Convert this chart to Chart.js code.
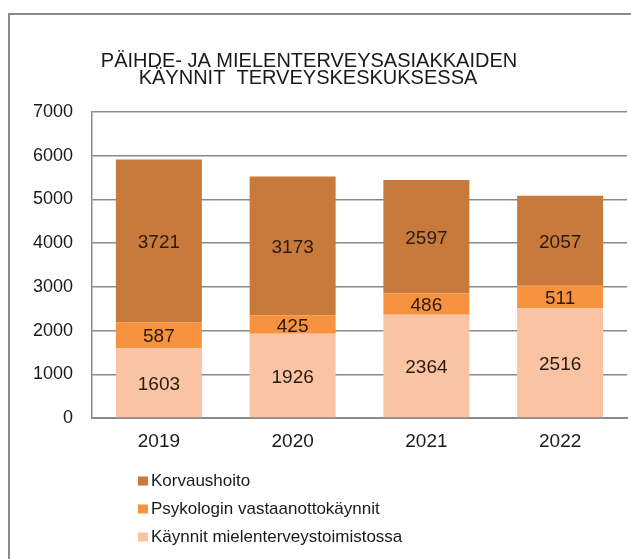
<!DOCTYPE html>
<html>
<head>
<meta charset="utf-8">
<script src="https://cdn.jsdelivr.net/npm/chart.js@4"></script>
<style>
html,body{margin:0;padding:0;background:#fff;}
#wrap{position:relative;width:631px;height:559px;}
</style>
</head>
<body>
<div id="wrap"><canvas id="c" width="631" height="559"></canvas></div>
<script>
const categories = ['2019', '2020', '2021', '2022'];
const mielenterveys = [1603, 1926, 2364, 2516];
const psykologi = [587, 425, 486, 511];
const korvaushoito = [3721, 3173, 2597, 2057];
const yTicks = [0, 1000, 2000, 3000, 4000, 5000, 6000, 7000];
const titleLines = ['PÄIHDE- JA MIELENTERVEYSASIAKKAIDEN', 'KÄYNNIT  TERVEYSKESKUKSESSA'];

const FONT = '"Liberation Sans", Arial, sans-serif';

const decorPlugin = {
  id: 'decor',
  afterDraw(chart) {
    const ctx = chart.ctx;
    ctx.save();
    // outer border
    ctx.strokeStyle = '#8a8a8a';
    ctx.lineWidth = 2;
    ctx.beginPath();
    ctx.moveTo(9, 559);
    ctx.lineTo(9, 14);
    ctx.lineTo(631, 14);
    ctx.stroke();
    // title
    ctx.fillStyle = '#1a1a1a';
    ctx.font = '20px ' + FONT;
    ctx.textAlign = 'center';
    ctx.textBaseline = 'alphabetic';
    ctx.fillText(titleLines[0], 309, 67);
    ctx.fillText(titleLines[1], 308, 84);
    // data labels
    ctx.font = '19px ' + FONT;
    ctx.textBaseline = 'middle';
    ctx.fillStyle = '#2a1a10';
    chart.data.datasets.forEach((ds, di) => {
      const meta = chart.getDatasetMeta(di);
      meta.data.forEach((bar, i) => {
        const yc = (bar.y + bar.base) / 2;
        ctx.fillText(String(ds.data[i]), bar.x, yc + 2);
      });
    });
    // legend (vertical, top to bottom: Korvaushoito, Psykologin, Käynnit)
    ctx.font = '17px ' + FONT;
    ctx.textAlign = 'left';
    const order = [2, 1, 0];
    order.forEach((di, k) => {
      const ds = chart.data.datasets[di];
      const yc = 481 + k * 28;
      ctx.fillStyle = ds.backgroundColor;
      ctx.fillRect(138, yc - 4.5, 10, 9);
      ctx.fillStyle = '#1a1a1a';
      ctx.fillText(ds.label, 151, yc);
    });
    ctx.restore();
  }
};

new Chart(document.getElementById('c'), {
  type: 'bar',
  data: {
    labels: categories,
    datasets: [
      { label: 'Käynnit mielenterveystoimistossa', data: mielenterveys, backgroundColor: '#F9C3A4' },
      { label: 'Psykologin vastaanottokäynnit', data: psykologi, backgroundColor: '#F7933F' },
      { label: 'Korvaushoito', data: korvaushoito, backgroundColor: '#C8793C' }
    ]
  },
  options: {
    responsive: false,
    animation: false,
    devicePixelRatio: 1,
    layout: { padding: { left: 0, right: 4, top: 112, bottom: 0 } },
    datasets: { bar: { categoryPercentage: 1, barPercentage: 0.643 } },
    plugins: {
      legend: { display: false },
      title: { display: false },
      tooltip: { enabled: false }
    },
    scales: {
      x: {
        stacked: true,
        grid: { display: false, drawTicks: false },
        border: { display: true, color: '#8a8a8a', width: 2 },
        ticks: { color: '#1a1a1a', font: { size: 19, family: FONT }, padding: 12 },
        afterFit(s) { s.height = 141; }
      },
      y: {
        stacked: true,
        min: 0,
        max: 7000,
        afterBuildTicks(s) { s.ticks = yTicks.map(v => ({ value: v })); },
        grid: { color: '#8a8a8a', lineWidth: 1.5, drawTicks: false },
        border: { display: true, color: '#8a8a8a', width: 1.5 },
        ticks: { color: '#1a1a1a', font: { size: 18, family: FONT }, padding: 19, callback: v => String(v) },
        afterFit(s) { s.width = 92; }
      }
    }
  },
  plugins: [decorPlugin]
});
</script>
</body>
</html>
